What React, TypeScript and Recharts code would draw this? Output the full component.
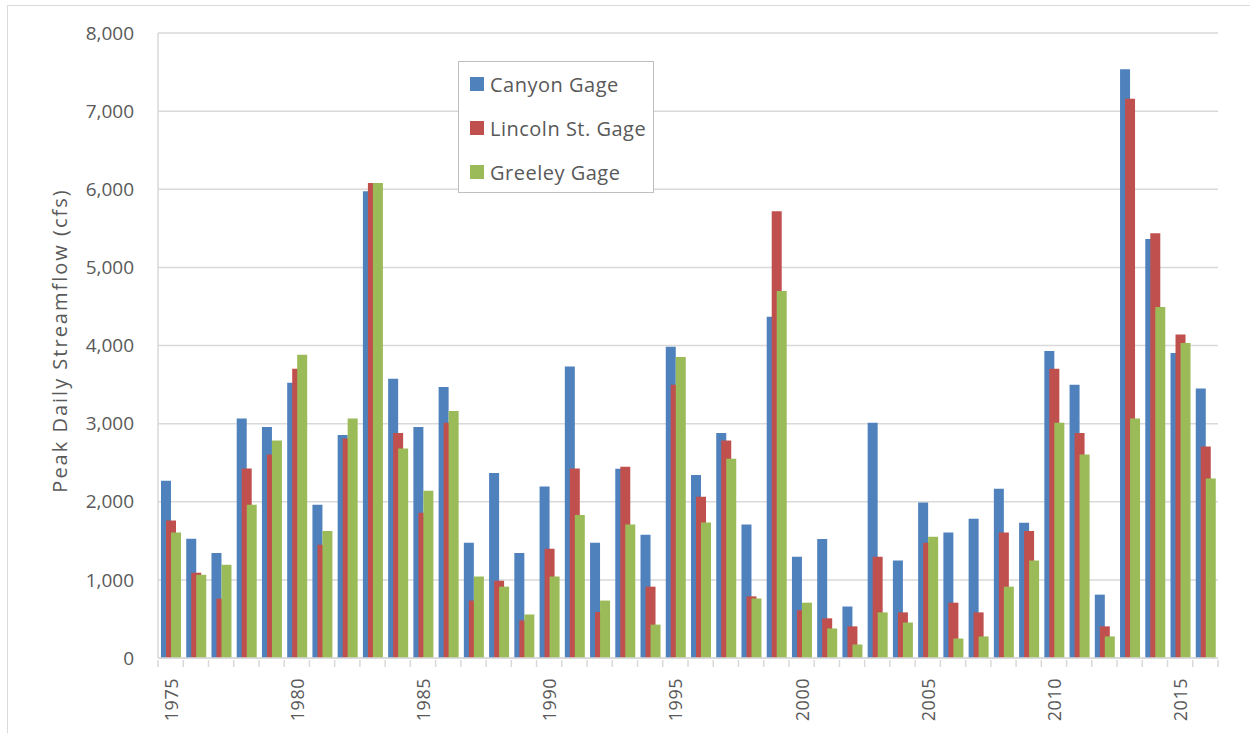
import React from 'react';
import { BarChart, Bar, XAxis, YAxis, CartesianGrid, Legend, Label } from 'recharts';

const years = [
  1975, 1976, 1977, 1978, 1979, 1980, 1981, 1982, 1983, 1984, 1985, 1986, 1987, 1988,
  1989, 1990, 1991, 1992, 1993, 1994, 1995, 1996, 1997, 1998, 1999, 2000, 2001, 2002,
  2003, 2004, 2005, 2006, 2007, 2008, 2009, 2010, 2011, 2012, 2013, 2014, 2015, 2016,
];

const canyon = [
  2270, 1525, 1345, 3065, 2957, 3524, 1962, 2854, 5973, 3573, 2957, 3470, 1476, 2368,
  1345, 2195, 3730, 1476, 2422, 1578, 3984, 2341, 2881, 1708, 4368, 1297, 1524, 659,
  3011, 1249, 1989, 1605, 1784, 2168, 1730, 3930, 3497, 811, 7535, 5362, 3903, 3449,
];

const lincoln = [
  1760, 1090, 760, 2427, 2605, 3703, 1449, 2811, 6081, 2881, 1859, 3011, 735, 989,
  481, 1400, 2427, 589, 2449, 913, 3497, 2065, 2784, 789, 5719, 611, 508, 405,
  1297, 584, 1476, 708, 584, 1605, 1627, 3703, 2881, 405, 7157, 5438, 4140, 2708,
];

const greeley = [
  1605, 1065, 1195, 1962, 2784, 3881, 1627, 3065, 6081, 2681, 2140, 3162, 1043, 913,
  557, 1043, 1832, 735, 1708, 427, 3854, 1735, 2551, 762, 4697, 708, 378, 173,
  584, 454, 1551, 249, 276, 913, 1249, 3011, 2605, 276, 3065, 4492, 4032, 2297,
];

const yTicks = [0, 1000, 2000, 3000, 4000, 5000, 6000, 7000, 8000];

const seriesInfo = [
  { key: 'canyon', name: 'Canyon Gage', color: '#4f81bd' },
  { key: 'lincoln', name: 'Lincoln St. Gage', color: '#c0504d' },
  { key: 'greeley', name: 'Greeley Gage', color: '#9bbb59' },
];

const data = years.map((year, i) => ({
  year,
  canyon: canyon[i],
  lincoln: lincoln[i],
  greeley: greeley[i],
}));

const FONT = '"Open Sans", "Liberation Sans", sans-serif';
const TEXT = '#595959';
const GRID = '#d9d9d9';

const YearTick = (props: any) => {
  const { x, y, payload } = props;
  const half = payload && typeof payload.offset === 'number' && payload.offset > 0 ? payload.offset : 12.6;
  const year = Number(payload.value);
  return (
    <g>
      <line x1={x - half} x2={x - half} y1={y} y2={y + 7} stroke={GRID} strokeWidth={1.5} />
      {year === years[years.length - 1] && (
        <line x1={x + half} x2={x + half} y1={y} y2={y + 7} stroke={GRID} strokeWidth={1.5} />
      )}
      {year % 5 === 0 && (
        <text
          x={x}
          y={y + 18}
          transform={`rotate(-90 ${x} ${y + 18})`}
          textAnchor="end"
          dominantBaseline="central"
          fill={TEXT}
          fontSize={18}
          letterSpacing={0.5}
          fontFamily={FONT}
        >
          {year}
        </text>
      )}
    </g>
  );
};

const LegendBox = () => (
  <div
    style={{
      width: 196,
      height: 132,
      border: '1.5px solid #bfbfbf',
      background: '#fff',
      boxSizing: 'border-box',
      fontFamily: FONT,
      fontSize: 20,
      letterSpacing: 0.5,
      color: TEXT,
    }}
  >
    {seriesInfo.map((s) => (
      <div key={s.key} style={{ display: 'flex', alignItems: 'center', height: 44, paddingLeft: 11 }}>
        <span style={{ display: 'inline-block', width: 14, height: 14, background: s.color, marginRight: 6 }} />
        <span>{s.name}</span>
      </div>
    ))}
  </div>
);

export default function App() {
  return (
    <div
      style={{
        position: 'absolute',
        left: 0,
        top: 0,
        width: 1250,
        height: 733,
        background: '#fff',
        overflow: 'hidden',
      }}
    >
      <div
        style={{
          position: 'absolute',
          left: 7,
          top: 5,
          width: 1250,
          height: 733,
          borderTop: `1px solid ${GRID}`,
          borderLeft: `1px solid ${GRID}`,
        }}
      />
      <BarChart
        width={1250}
        height={733}
        data={data}
        margin={{ top: 33, right: 32, bottom: 0, left: 0 }}
        barSize={10}
        barGap={-5}
      >
        <CartesianGrid vertical={false} stroke={GRID} strokeWidth={1.5} />
        <XAxis
          dataKey="year"
          interval={0}
          tickLine={false}
          tickSize={0}
          axisLine={{ stroke: GRID, strokeWidth: 1.5 }}
          tick={<YearTick />}
          height={75}
        />
        <YAxis
          width={158}
          domain={[0, 8000]}
          ticks={yTicks}
          tickLine={false}
          tickSize={0}
          tickMargin={24}
          axisLine={{ stroke: GRID, strokeWidth: 1.5 }}
          tickFormatter={(v: number) => v.toLocaleString('en-US')}
          tick={{ fill: TEXT, fontSize: 19, fontFamily: FONT }}
        >
          <Label
            content={({ viewBox }: any) => {
              const cx = viewBox.x + 59;
              const cy = viewBox.y + viewBox.height / 2 - 5;
              return (
                <text
                  x={cx}
                  y={cy}
                  transform={`rotate(-90 ${cx} ${cy})`}
                  textAnchor="middle"
                  dominantBaseline="central"
                  fill={TEXT}
                  fontSize={20}
                  letterSpacing={2}
                  fontFamily={FONT}
                >
                  Peak Daily Streamflow (cfs)
                </text>
              );
            }}
          />
        </YAxis>
        <YAxis
          yAxisId="right"
          orientation="right"
          width={0}
          domain={[0, 8000]}
          tick={false}
          tickLine={false}
          axisLine={{ stroke: GRID, strokeWidth: 1.5 }}
        />
        <Legend
          layout="vertical"
          align="center"
          verticalAlign="middle"
          content={() => <LegendBox />}
          wrapperStyle={{ left: 458, top: 61, width: 196, height: 132 }}
        />
        {seriesInfo.map((s) => (
          <Bar key={s.key} dataKey={s.key} name={s.name} fill={s.color} isAnimationActive={false} />
        ))}
      </BarChart>
    </div>
  );
}
